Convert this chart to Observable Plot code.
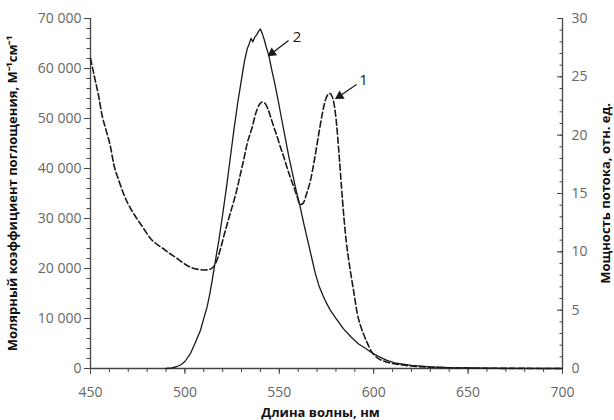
<!DOCTYPE html>
<html><head><meta charset="utf-8">
<script src="https://cdn.jsdelivr.net/npm/d3@7"></script>
<script src="https://cdn.jsdelivr.net/npm/@observablehq/plot@0.6"></script>
<style>body{margin:0;background:#fff}</style>
</head><body><div id="chart"></div>
<script>
// Curve 1: molar absorption coefficient (left axis), [wavelength nm, M^-1 cm^-1]
const absorption = [
  [450,62000],[452,58500],[454.4,54300],[456.2,50500],[458,48000],[460.6,44300],[462.3,40900],
  [465,37600],[469.4,33300],[471.2,32000],[474,30300],[476.5,28900],[479,27500],[481.8,26000],
  [485,24900],[488.8,23900],[492,23000],[495.9,22000],[498,21400],[501.2,20600],[504,20100],
  [507.4,19800],[510.5,19700],[513.6,19900],[516.2,21000],[518.9,24000],[520.5,26300],[522.4,28900],
  [524,31000],[526,33600],[528,36500],[529.4,38900],[531,41500],[533,45000],[535.6,48200],
  [537.5,51000],[539.5,52800],[541,53300],[542.5,53000],[544,51900],[545.5,50200],[547.1,48300],
  [549,46200],[550.5,44400],[552.4,42300],[554,40300],[555.7,38400],[557.7,36300],[559.5,34300],
  [561,32800],[562.5,33000],[564.5,35000],[566.5,37600],[568.5,41500],[570.9,46900],[572.8,51000],
  [574.7,54000],[576.6,55000],[578,54400],[579.2,52500],[580.3,49000],[581.5,43600],[582.8,37000],
  [584.2,30300],[585.5,25300],[586.8,21600],[588.2,18200],[589.5,15200],[591.3,11000],[593,8600],
  [594.5,7000],[596.5,5200],[599,3300],[602,2100],[606,1400],[610,1000],[615,700],[620,500],
  [627,320],[635,200],[645,110],[660,50],[680,20],[700,0]
];
// Curve 2: flux power (right axis, relative units), [wavelength nm, value]
const emission = [
  [490,0],[493,0.05],[495.5,0.15],[497.7,0.3],[500,0.6],[503,1.3],[505.5,2.2],[508.3,3.3],
  [510,4.3],[511.8,5.3],[513.2,6.4],[514.5,7.6],[516.2,9.3],[518,11],[520,13.2],[522,15.5],
  [524,18],[526,20.5],[528,22.8],[530,24.8],[531.5,26.3],[533,27.4],[534,27.8],[535,28.3],
  [536,28.0],[537,28.4],[538,28.6],[539,28.9],[540,29.1],[541,28.7],[542,28.2],[543,27.6],
  [544.5,26.8],[546,25.6],[547.5,24.5],[549,23.3],[551,21.6],[553,19.9],[555,18.2],[557,16.7],
  [559,15.2],[561,13.9],[563,12.4],[565,11],[567,9.6],[569,8.2],[571,7.1],[573,6.3],[575,5.6],
  [577,5.0],[580,4.3],[584,3.4],[588,2.7],[592,2.1],[595,1.8],[599,1.35],[603,1.0],[607,0.7],
  [612,0.45],[620,0.26],[630,0.14],[640,0.07],[660,0.03],[680,0.01],[700,0]
];
const xTicks = [450, 500, 550, 600, 650, 700];
const xMinorTicks = d3.range(450, 701, 10);
const yLeftTicks = [0, 10000, 20000, 30000, 40000, 50000, 60000, 70000];
const yLeftMinorTicks = d3.range(0, 70001, 2000);
const yRightTicks = [0, 5, 10, 15, 20, 25, 30];
const yRightMinorTicks = d3.range(0, 31, 1);
// Curve labels: [label, text x, text y, arrow from x, from y, arrow to x, to y] (data units, left axis)
const curveLabels = [
  ["2", 559.4, 66300, 554.9, 65600, 546.2, 63100],
  ["1", 594.6, 57600, 590.9, 56800, 582.0, 54500]
];
const xTitle = "Длина волны, нм";
const yLeftTitle = "Молярный коэффициент поглощения, М⁻¹см⁻¹";
const yRightTitle = "Мощность потока, отн. ед.";

const K = 70000 / 30; // right axis units -> left axis units
const fmt = d3.formatLocale({thousands: "\u00a0", grouping: [3], decimal: ","}).format(",");
const axisColor = "#444";
const labelColor = "#666";
const ink = "#1a1a1a";

const chart = Plot.plot({
  width: 614, height: 420,
  marginLeft: 90, marginRight: 52, marginTop: 18, marginBottom: 52,
  style: {fontFamily: "'Open Sans', sans-serif", fontSize: "14px", background: "#fff", color: labelColor},
  x: {domain: [450, 700]},
  y: {domain: [0, 70000]},
  marks: [
    Plot.axisX(xMinorTicks, {tickSize: 4, fill: "none", stroke: axisColor, label: null}),
    Plot.axisX(xTicks, {tickSize: 6, tickPadding: 13, stroke: axisColor, fill: labelColor, label: null}),
    Plot.axisY(yLeftMinorTicks, {anchor: "left", tickSize: 3.5, fill: "none", stroke: axisColor, label: null}),
    Plot.axisY(yLeftTicks, {anchor: "left", tickSize: 6, tickPadding: 3, tickFormat: fmt, stroke: axisColor, fill: labelColor, label: null}),
    Plot.axisY(yRightMinorTicks.map(v => v * K), {anchor: "right", tickSize: 3.5, dx: -3.5, fill: "none", stroke: axisColor, label: null}),
    Plot.axisY(yRightTicks.map(v => v * K), {anchor: "right", tickSize: 6, dx: -6, fill: "none", stroke: axisColor, label: null}),
    Plot.axisY(yRightTicks.map(v => v * K), {anchor: "right", tickSize: 0, tickPadding: 9, tickFormat: d => Math.round(d / K), fill: labelColor, label: null}),
    Plot.ruleX([450, 700], {stroke: axisColor, strokeWidth: 1.3}),
    Plot.ruleY([0], {stroke: axisColor, strokeWidth: 1.3}),
    Plot.line(absorption, {x: d => d[0], y: d => d[1], stroke: ink, strokeWidth: 1.6, strokeDasharray: "6,3", curve: "monotone-x"}),
    Plot.line(emission, {x: d => d[0], y: d => d[1] * K, stroke: ink, strokeWidth: 1.3}),
    Plot.link(curveLabels, {x1: d => d[3], y1: d => d[4], x2: d => d[5], y2: d => d[6], stroke: ink, strokeWidth: 1.3}),
    Plot.dot(curveLabels, {x: d => d[5], y: d => d[6], symbol: "triangle", r: 3.6, fill: ink, stroke: null, rotate: d => d[0] === "2" ? 235 : 238}),
    Plot.text(curveLabels, {x: d => d[1], y: d => d[2], text: d => d[0], fontSize: 15, fill: ink}),
    Plot.text([xTitle], {frameAnchor: "bottom", textAnchor: "middle", lineAnchor: "middle", dx: -6, dy: 44, fontWeight: "bold", fontSize: 13, fill: "#111"}),
    Plot.text([yLeftTitle], {frameAnchor: "left", textAnchor: "middle", lineAnchor: "middle", dx: -78, rotate: -90, fontWeight: "bold", fontSize: 13, fill: "#111"}),
    Plot.text([yRightTitle], {frameAnchor: "right", textAnchor: "middle", lineAnchor: "middle", dx: 43, rotate: -90, fontWeight: "bold", fontSize: 13, fill: "#111"})
  ]
});
document.getElementById("chart").appendChild(chart);
</script>
</body></html>
